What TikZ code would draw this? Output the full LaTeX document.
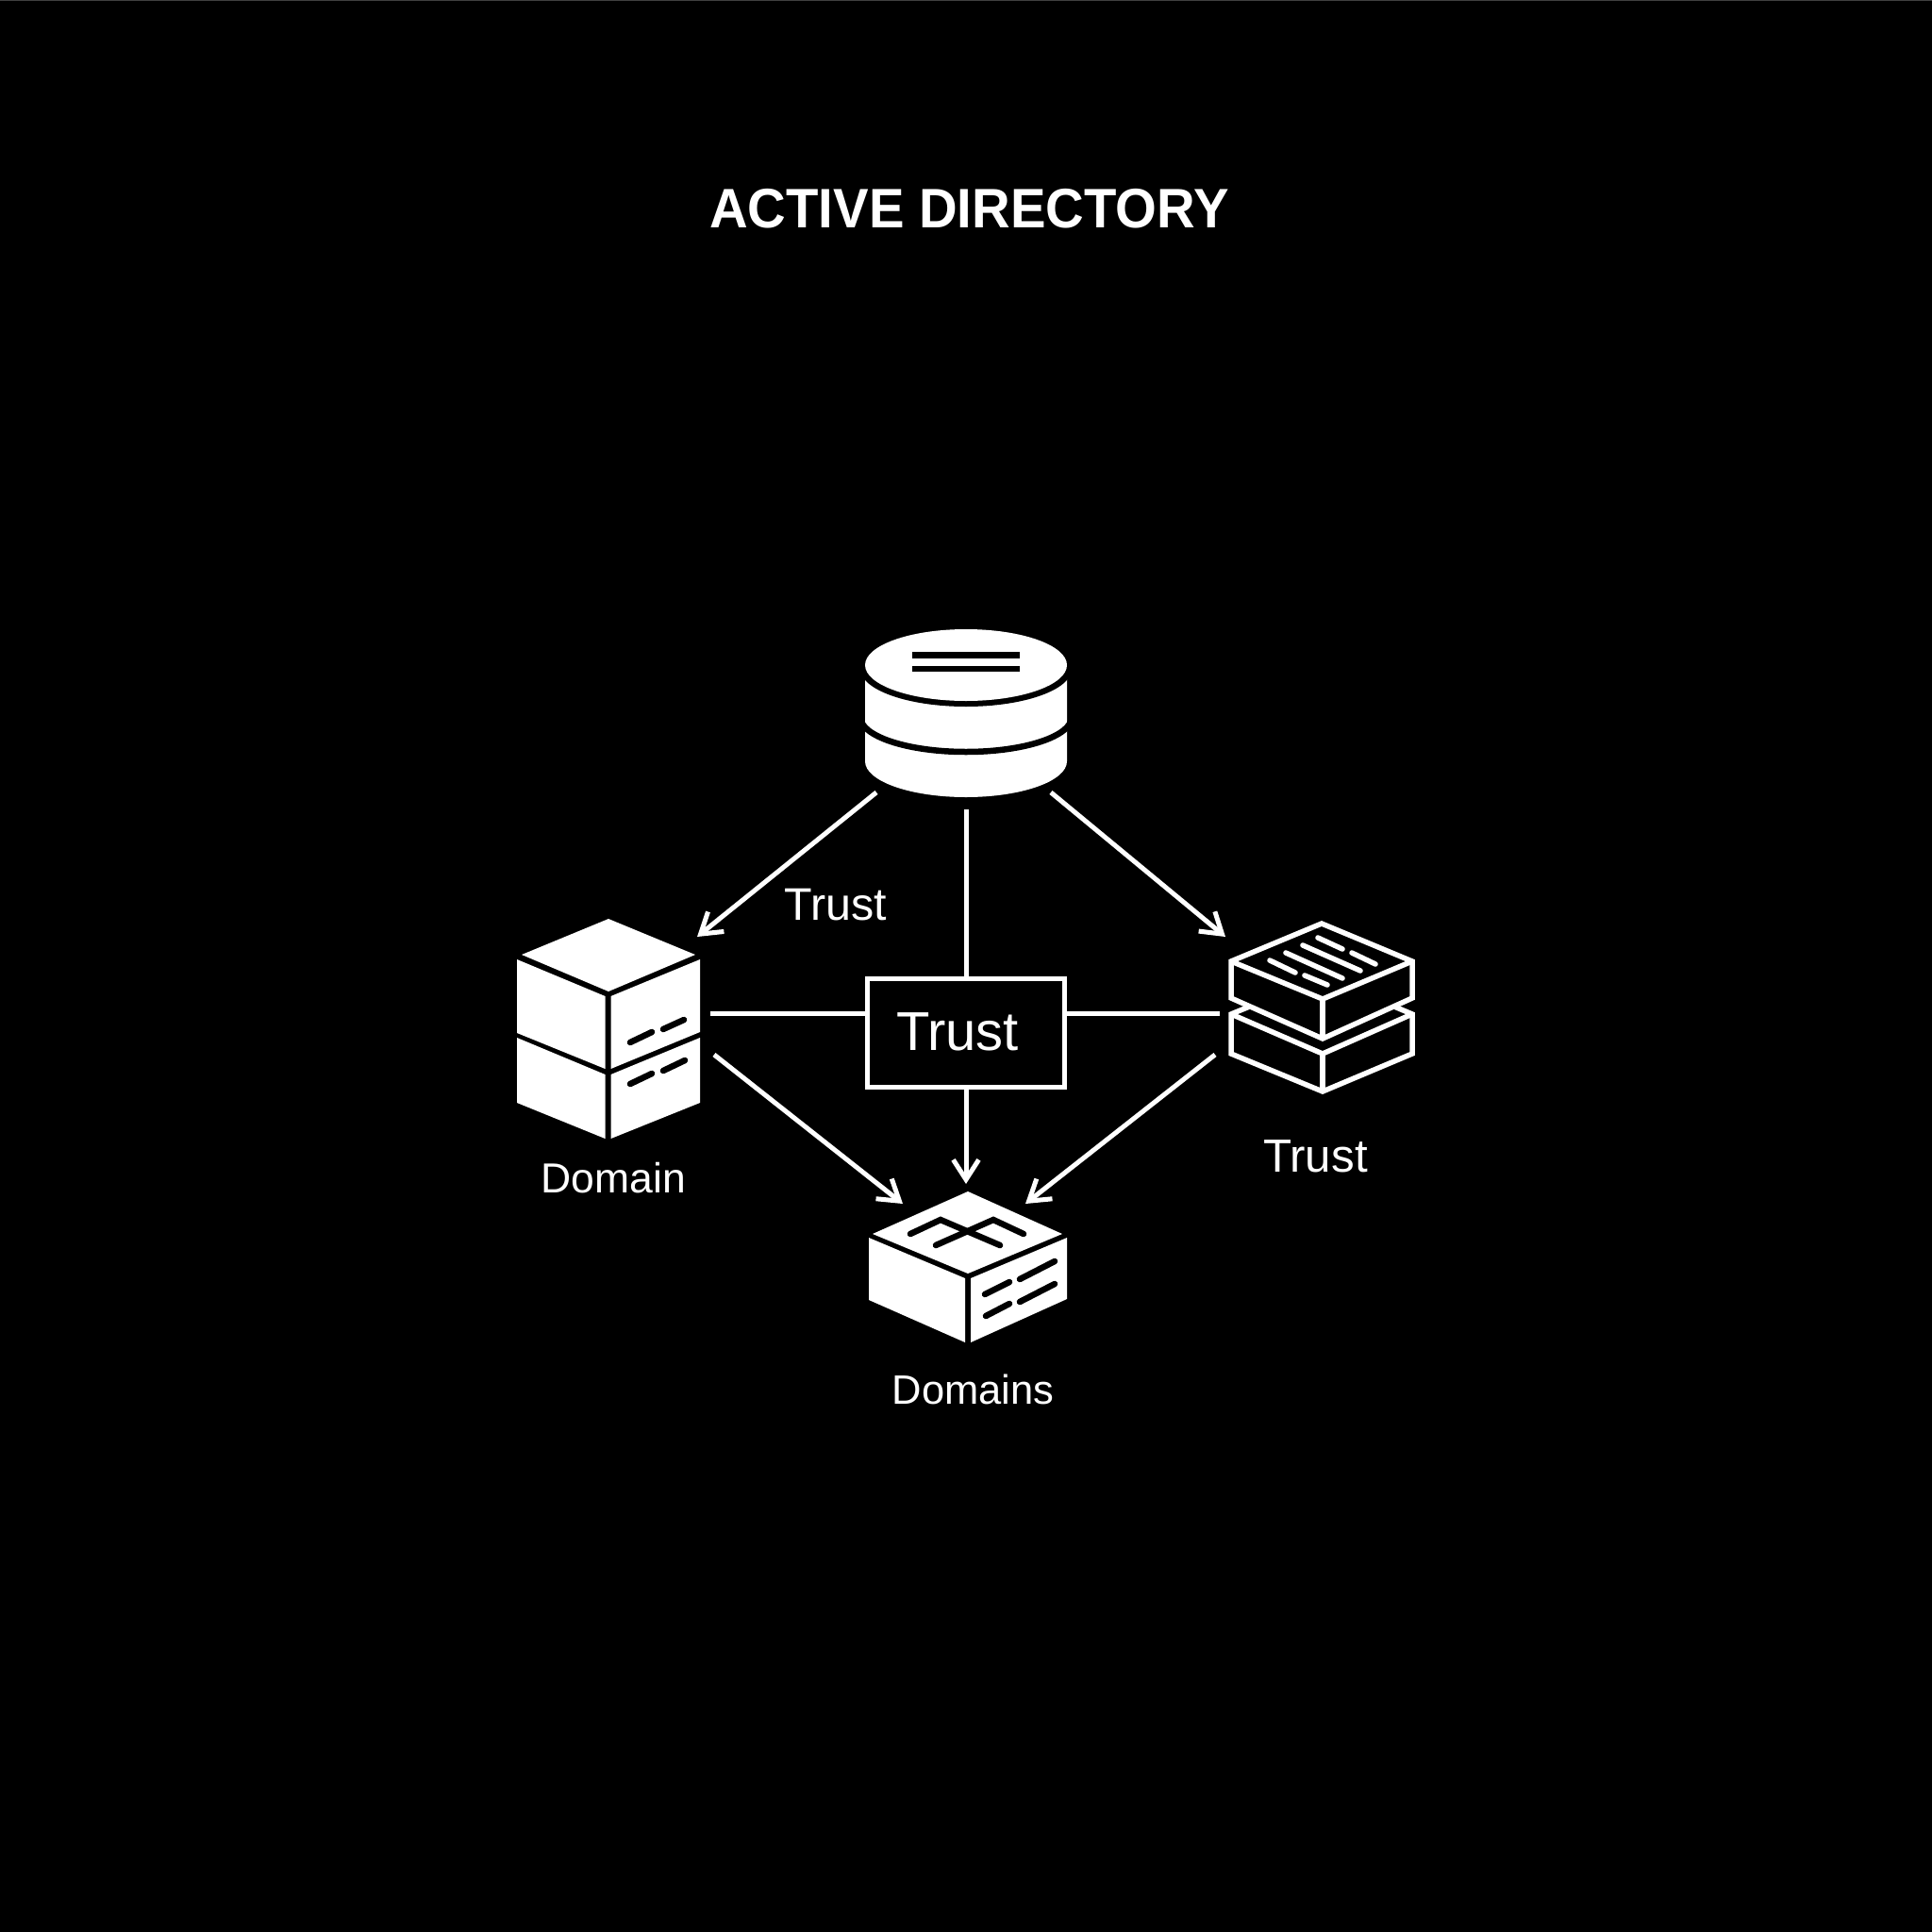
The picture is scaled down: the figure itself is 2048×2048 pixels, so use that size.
\documentclass[tikz,border=0pt]{standalone}
\usepackage{fontspec}
\setmainfont{Liberation Sans}
\newfontfamily\titlefont[FakeStretch=0.954]{Liberation Sans}
\usetikzlibrary{arrows.meta}
\tikzset{
  x=1pt,y=-1pt,
  wire/.style={draw=white,line width=5pt},
  arrowwire/.style={wire,-{Straight Barb[length=21pt,width=27pt,line width=5pt]}},
  label/.style={text=white,anchor=base,inner sep=0pt},
  titletext/.style={text=white,anchor=base,inner sep=0pt,font=\fontsize{59}{62}\titlefont\bfseries},
  trustbox/.style={draw=white,line width=5pt,fill=black,minimum width=209pt,minimum height=115pt,inner sep=0pt},
  face/.style={fill=white},
  blackmark/.style={draw=black,line width=6.5pt,line cap=round,line join=miter},
  blackbar/.style={fill=black},
  outline/.style={draw=white,fill=black,line width=5.5pt,line join=miter},
  whitemark/.style={draw=white,line width=5.5pt,line cap=round},
}
\begin{document}
\begin{tikzpicture}
\fill[black] (0,0) rectangle (2048,2048);
\fill[black!75!white] (0,0) rectangle (2048,1);
\useasboundingbox (0,0) rectangle (2048,2048);

\node[titletext] (title) at (1027.5,241.5) {ACTIVE DIRECTORY};

% database
\fill[face] (917,705) -- (917,807) arc[start angle=180,end angle=0,x radius=107,y radius=38] -- (1131,705) -- cycle;
\fill[black] (1024,709) ellipse[x radius=112,y radius=40];
\fill[face] (1024,705) ellipse[x radius=107,y radius=38];
\draw[black,line width=6.5pt] (912,760) arc[start angle=180,end angle=0,x radius=112,y radius=37];
\fill[blackbar] (967,691) rectangle (1081,698);
\fill[blackbar] (967,706) rectangle (1081,712);

% left stacked cube
\fill[face] (645,974) -- (737,1012) -- (645,1051) -- (553,1012) -- cycle;
\fill[face] (548,1017) -- (641.5,1056) -- (641.5,1133) -- (548,1095) -- cycle;
\fill[face] (647.5,1056) -- (742,1017) -- (742,1094) -- (647.5,1133) -- cycle;
\fill[face] (548,1100) -- (641.5,1139) -- (641.5,1207) -- (548,1169) -- cycle;
\fill[face] (647.5,1139) -- (742,1100) -- (742,1169) -- (647.5,1207) -- cycle;
\draw[blackmark] (668,1105) -- (691,1094);
\draw[blackmark] (703,1091) -- (725,1081);
\draw[blackmark] (668,1149) -- (691,1138);
\draw[blackmark] (703,1135) -- (726,1124);

% right stacked outline boxes
\draw[outline] (1305,1075) -- (1402,1035) -- (1497,1075) -- (1497,1117) -- (1402,1157) -- (1305,1117) -- cycle;
\draw[outline] (1305,1075) -- (1402,1117) -- (1497,1075);
\draw[outline] (1402,1117) -- (1402,1157);
\draw[outline] (1305,1019) -- (1401,979) -- (1497,1019) -- (1497,1058) -- (1402,1101) -- (1305,1058) -- cycle;
\draw[outline] (1305,1019) -- (1402,1059) -- (1497,1019);
\draw[outline] (1402,1059) -- (1402,1101);
\draw[whitemark] (1346,1018) -- (1373,1031);
\draw[whitemark] (1363,1010) -- (1423,1037);
\draw[whitemark] (1381,1002) -- (1442,1029);
\draw[whitemark] (1397,994) -- (1423,1006);
\draw[whitemark] (1433,1010) -- (1458,1022);
\draw[whitemark] (1383,1034) -- (1407,1044);

% bottom box
\fill[face] (1026,1263) -- (1126,1308) -- (1026,1350) -- (925,1308) -- cycle;
\fill[face] (921,1312) -- (1023,1355) -- (1023,1423) -- (921,1378) -- cycle;
\fill[face] (1029,1355) -- (1131,1312) -- (1131,1377) -- (1029,1423) -- cycle;
\draw[blackmark] (965,1308) -- (997,1293) -- (1060,1320);
\draw[blackmark] (992,1320) -- (1053,1293) -- (1085,1308);
\draw[blackmark] (1044,1372) -- (1070,1359);
\draw[blackmark] (1081,1356) -- (1118,1337);
\draw[blackmark] (1045,1395) -- (1070,1382);
\draw[blackmark] (1081,1380) -- (1118,1361);

% trust box
\node[trustbox] (trustmid) at (1024,1095) {};
\node[label,font=\fontsize{58}{60}\selectfont] (trustmidtext) at (1015,1113) {Trust};

% connector ends
\coordinate (dbSW) at (929,840);
\coordinate (dbS) at (1024,858);
\coordinate (dbSE) at (1114,840);
\coordinate (cubeNE) at (739,993);
\coordinate (cubeE) at (753,1074);
\coordinate (cubeSE) at (757,1118);
\coordinate (stackNW) at (1299,993);
\coordinate (stackW) at (1293,1074);
\coordinate (stackSW) at (1288,1118);
\coordinate (boxNW) at (957,1276);
\coordinate (boxN) at (1024,1255);
\coordinate (boxNE) at (1087,1276);

\draw[arrowwire] (dbSW) -- (cubeNE);
\draw[wire] (dbS) -- (trustmid.north);
\draw[arrowwire] (dbSE) -- (stackNW);
\draw[wire] (cubeE) -- (trustmid.west |- cubeE);
\draw[wire] (trustmid.east |- stackW) -- (stackW);
\draw[arrowwire] (trustmid.south) -- (boxN);
\draw[arrowwire] (cubeSE) -- (boxNW);
\draw[arrowwire] (stackSW) -- (boxNE);

% labels
\node[label,font=\fontsize{48.4}{50}\selectfont] (lblA) at (885.5,975) {Trust};
\node[label,font=\fontsize{44.5}{48}\selectfont] (lblB) at (650.5,1264) {Domain};
\node[label,font=\fontsize{49.3}{52}\selectfont] (lblC) at (1394.5,1242) {Trust};
\node[label,font=\fontsize{43.5}{46}\selectfont] (lblD) at (1031.5,1488) {Domains};
\end{tikzpicture}
\end{document}
